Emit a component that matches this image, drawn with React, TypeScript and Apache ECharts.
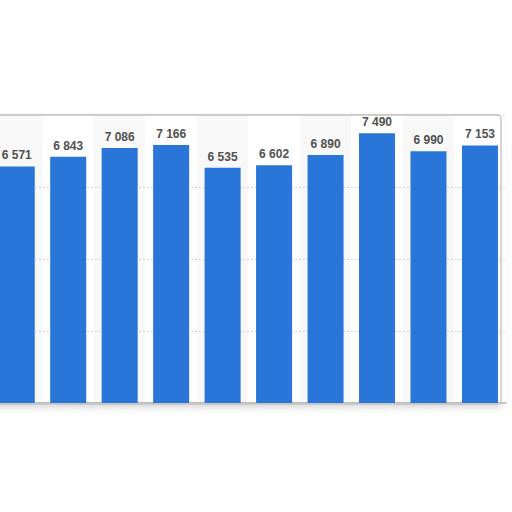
import React, { useEffect, useRef } from "react";
import * as echarts from "echarts";

const categories = ["1", "2", "3", "4", "5", "6", "7", "8", "9", "10"];
const values = [6571, 6843, 7086, 7166, 6535, 6602, 6890, 7490, 6990, 7153];
const yTicks = { min: 0, max: 8000, interval: 2000 };

const fmt = (v: number) => {
  const s = String(Math.round(v));
  return s.replace(/\B(?=(\d{3})+(?!\d))/g, " ");
};

export default function App() {
  const ref = useRef<HTMLDivElement>(null);
  useEffect(() => {
    if (!ref.current) return;
    const chart = echarts.init(ref.current, null, { renderer: "svg" });
    chart.setOption({
      animation: false,
      graphic: [
        {
          type: "rect",
          z: -10,
          shape: { x: -2, y: 115, width: 512, height: 289, r: 4 },
          style: {
            fill: "#ffffff",
            stroke: "#c8c8c8",
            lineWidth: 1.5,
            shadowBlur: 6,
            shadowColor: "rgba(0,0,0,0.15)",
            shadowOffsetY: 3,
          },
        },
        {
          type: "rect",
          z: 50,
          silent: true,
          shape: { x: -2, y: 115, width: 512, height: 289, r: 4 },
          style: { fill: "none", stroke: "#c8c8c8", lineWidth: 1.5 },
        },
      ],
      grid: { left: 0, right: 6.3, top: 115, bottom: 109 },
      xAxis: {
        type: "category",
        data: categories,
        z: 0,
        axisLabel: { show: false },
        axisTick: { show: false },
        axisLine: { show: true, lineStyle: { color: "#a8a8a8", width: 1.5 } },
        splitArea: {
          show: true,
          areaStyle: { color: ["#f8f8f8", "#ffffff"] },
        },
      },
      yAxis: {
        type: "value",
        z: 1,
        min: yTicks.min,
        max: yTicks.max,
        interval: yTicks.interval,
        axisLabel: { show: false },
        axisLine: { show: false },
        axisTick: { show: false },
        splitLine: {
          show: true,
          lineStyle: { color: "#d2d2d2", type: [2, 2], width: 1 },
        },
      },
      series: [
        {
          type: "bar",
          z: 2,
          data: values,
          barCategoryGap: "30%",
          itemStyle: { color: "#2a76d8" },
          label: {
            show: true,
            position: "top",
            distance: 5,
            formatter: (p: any) => fmt(p.value),
            color: "#505050",
            fontSize: 12,
            fontWeight: "bold",
            fontFamily: "Liberation Sans, Arial, sans-serif",
          },
        },
      ],
    });
    return () => chart.dispose();
  }, []);
  return (
    <div
      ref={ref}
      style={{ position: "absolute", left: -9, top: 0, width: 521, height: 512 }}
    />
  );
}
